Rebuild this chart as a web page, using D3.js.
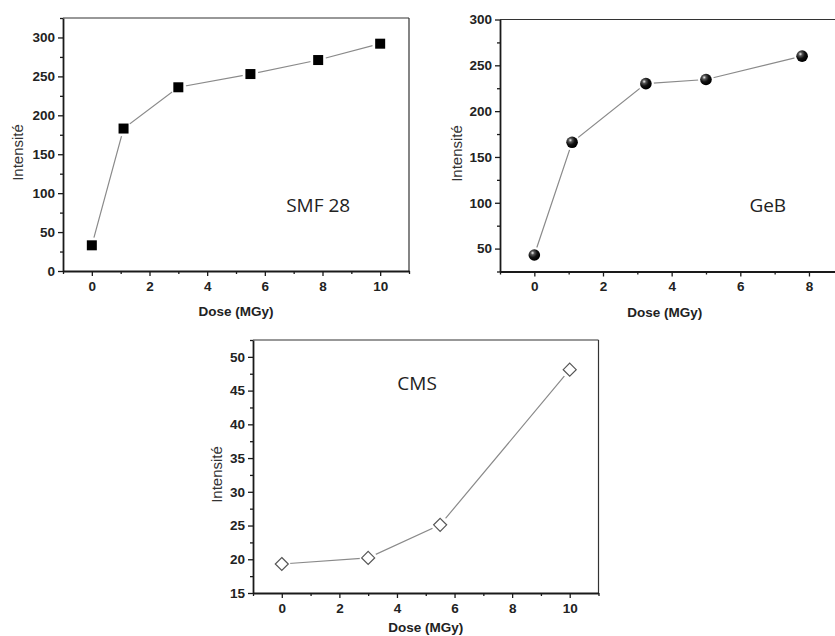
<!DOCTYPE html>
<html>
<head>
<meta charset="utf-8">
<script src="https://cdn.jsdelivr.net/npm/d3@7"></script>
<style>
  html, body { margin: 0; padding: 0; background: #fff; }
  svg { display: block; }
</style>
</head>
<body>
<svg id="chart" width="835" height="636"></svg>
<script>
// ---------------- data ----------------
const smfDose = [0, 1.1, 3, 5.5, 7.85, 10];
const smfIntensity = [33, 183, 236, 253, 271, 292];
const gebDose = [0, 1.1, 3.25, 5, 7.8];
const gebIntensity = [43, 166, 230, 234.5, 260];
const cmsDose = [0, 3, 5.5, 10];
const cmsIntensity = [19.3, 20.2, 25.1, 48.1];

const xTicks10 = [0, 2, 4, 6, 8, 10];
const xTicks8 = [0, 2, 4, 6, 8];
const smfYTicks = [0, 50, 100, 150, 200, 250, 300];
const gebYTicks = [50, 100, 150, 200, 250, 300];
const cmsYTicks = [15, 20, 25, 30, 35, 40, 45, 50];

const xLabel = "Dose (MGy)";
const yLabel = "Intensité";
const panelNames = ["SMF 28", "GeB", "CMS"];

// ---------------- layout ----------------
const panels = [
  { name: panelNames[0], x: smfDose, y: smfIntensity, xTicks: xTicks10, yTicks: smfYTicks,
    xDom: [-1, 11], yDom: [0, 325], left: 63, top: 18, right: 409, bottom: 271,
    marker: "square", ylabOff: 45, note: [7.85, 84.5], minorY: 25, minorX: 1, frameRight: true,
    xlabAt: 5, xlabDy: 45 },
  { name: panelNames[1], x: gebDose, y: gebIntensity, xTicks: xTicks8, yTicks: gebYTicks,
    xDom: [-1, 9], yDom: [25, 300], left: 500, top: 19.5, right: 843.3, bottom: 271.5,
    marker: "sphere", ylabOff: 43, note: [6.8, 97], minorY: 25, minorX: 1, frameRight: false,
    xlabAt: 3.8, xlabDy: 45 },
  { name: panelNames[2], x: cmsDose, y: cmsIntensity, xTicks: xTicks10, yTicks: cmsYTicks,
    xDom: [-1, 11], yDom: [15, 52.5], left: 253, top: 340, right: 598.5, bottom: 593,
    marker: "diamond", ylabOff: 36, note: [4.7, 46.1], minorY: 2.5, minorX: 1, frameRight: true,
    xlabAt: 5, xlabDy: 39 }
];

const svg = d3.select("#chart");
const defs = svg.append("defs");
const grad = defs.append("radialGradient").attr("id", "sphereGrad")
  .attr("cx", "35%").attr("cy", "32%").attr("r", "65%");
grad.append("stop").attr("offset", "0%").attr("stop-color", "#f4f4f4");
grad.append("stop").attr("offset", "25%").attr("stop-color", "#555");
grad.append("stop").attr("offset", "60%").attr("stop-color", "#111");
grad.append("stop").attr("offset", "100%").attr("stop-color", "#000");

const axisColor = "#1a1a1a";
const tickFont = "'Liberation Sans', Arial, sans-serif";

panels.forEach(p => {
  const g = svg.append("g");
  const xs = d3.scaleLinear().domain(p.xDom).range([p.left, p.right]);
  const ys = d3.scaleLinear().domain(p.yDom).range([p.bottom, p.top]);

  // frame top / right
  g.append("line").attr("x1", p.left).attr("x2", p.right).attr("y1", p.top).attr("y2", p.top)
    .attr("stroke", "#333").attr("stroke-width", 1.2);
  if (p.frameRight) {
    g.append("line").attr("x1", p.right).attr("x2", p.right).attr("y1", p.top).attr("y2", p.bottom)
      .attr("stroke", "#333").attr("stroke-width", 1.2);
  }

  // minor ticks
  const minorXs = d3.range(Math.ceil(p.xDom[0]), p.xDom[1] + 1e-9, p.minorX)
    .filter(v => !p.xTicks.includes(v));
  const minorYs = d3.range(p.yDom[0], p.yDom[1] + 1e-9, p.minorY)
    .filter(v => !p.yTicks.some(t => Math.abs(t - v) < 1e-6));

  const xAxis = d3.axisBottom(xs).tickValues(p.xTicks).tickSizeInner(5).tickSizeOuter(0).tickPadding(5)
    .tickFormat(d3.format("d"));
  const gx = g.append("g").attr("transform", `translate(0,${p.bottom})`).call(xAxis);
  const xMinor = d3.axisBottom(xs).tickValues(minorXs).tickSize(3).tickFormat("");
  const gxm = g.append("g").attr("transform", `translate(0,${p.bottom})`).call(xMinor);
  gxm.select(".domain").remove();

  const yAxis = d3.axisLeft(ys).tickValues(p.yTicks).tickSizeInner(5).tickSizeOuter(0).tickPadding(3)
    .tickFormat(d3.format("d"));
  const gy = g.append("g").attr("transform", `translate(${p.left},0)`).call(yAxis);
  const yMinor = d3.axisLeft(ys).tickValues(minorYs).tickSize(3).tickFormat("");
  const gym = g.append("g").attr("transform", `translate(${p.left},0)`).call(yMinor);
  gym.select(".domain").remove();

  [gx, gy, gxm, gym].forEach(a => {
    a.selectAll(".domain").attr("stroke", axisColor).attr("stroke-width", 1.8);
    a.selectAll(".tick line").attr("stroke", axisColor).attr("stroke-width", 1.3);
    a.selectAll("text").attr("fill", "#222").style("font-family", tickFont)
      .style("font-weight", "bold").style("font-size", "13.5px");
  });

  // axis titles
  g.append("text")
    .attr("x", xs(p.xlabAt))
    .attr("y", p.bottom + p.xlabDy).attr("text-anchor", "middle")
    .style("font-family", tickFont).style("font-weight", "bold").style("font-size", "13.5px")
    .attr("fill", "#222").text(xLabel);
  const ymid = (p.top + p.bottom) / 2 + 8;
  g.append("text").attr("transform", `translate(${p.left - p.ylabOff},${ymid}) rotate(-90)`)
    .attr("text-anchor", "middle").attr("dy", "0.35em")
    .style("font-family", tickFont).style("font-size", "15px")
    .attr("fill", "#333").text(yLabel);

  // data
  const pts = p.x.map((d, i) => [xs(d), ys(p.y[i])]);
  g.append("path").attr("d", d3.line()(pts)).attr("fill", "none")
    .attr("stroke", "#8a8a8a").attr("stroke-width", 1.2);

  // white halo to create gap between line and marker
  g.selectAll(".halo").data(pts).join("circle")
    .attr("cx", d => d[0]).attr("cy", d => d[1])
    .attr("r", p.marker === "diamond" ? 8.5 : 8).attr("fill", "#fff");

  if (p.marker === "square") {
    const s = 10;
    g.selectAll(".m").data(pts).join("rect")
      .attr("x", d => d[0] - s / 2).attr("y", d => d[1] - s / 2)
      .attr("width", s).attr("height", s).attr("fill", "#000");
  } else if (p.marker === "sphere") {
    g.selectAll(".m").data(pts).join("circle")
      .attr("cx", d => d[0]).attr("cy", d => d[1]).attr("r", 5.8)
      .attr("fill", "url(#sphereGrad)");
  } else {
    const r = 6.5;
    g.selectAll(".m").data(pts).join("path")
      .attr("d", d => `M${d[0]},${d[1] - r}L${d[0] + r},${d[1]}L${d[0]},${d[1] + r}L${d[0] - r},${d[1]}Z`)
      .attr("fill", "#fff").attr("stroke", "#555").attr("stroke-width", 1.2);
  }

  // panel annotation
  g.append("text").attr("x", xs(p.note[0])).attr("y", ys(p.note[1])).attr("dy", "0.35em")
    .attr("text-anchor", "middle")
    .style("font-family", "'Open Sans', 'Noto Sans', sans-serif").style("font-size", "19px")
    .attr("fill", "#222").text(p.name);
});
</script>
</body>
</html>
